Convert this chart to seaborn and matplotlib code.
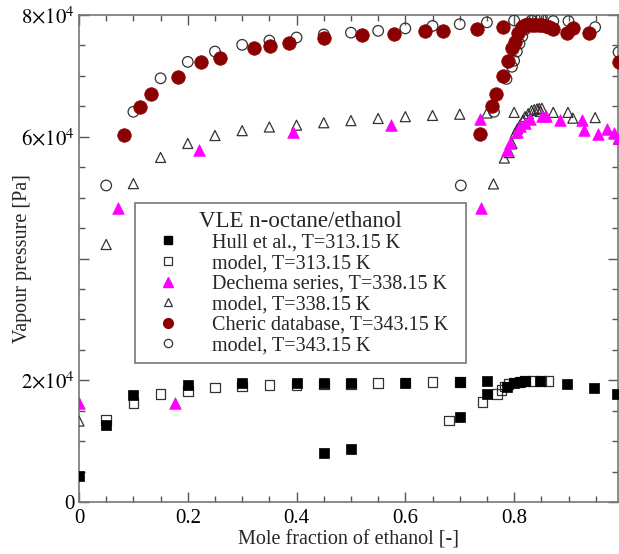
import matplotlib
matplotlib.use("Agg")
import matplotlib.pyplot as plt
import seaborn as sns
import numpy as np
from matplotlib.lines import Line2D
from matplotlib.ticker import MultipleLocator, FixedLocator, FixedFormatter

# ---------------- data ----------------
hull_x = [0.0, 0.05, 0.10, 0.20, 0.30, 0.40, 0.45, 0.50, 0.60, 0.70, 0.75,
          0.45, 0.50, 0.70, 0.75, 0.787, 0.80, 0.81, 0.82, 0.848, 0.897, 0.947, 0.99]
hull_y = [4300, 12600, 17600, 19200, 19600, 19600, 19600, 19600, 19600, 19700, 19800,
          8100, 8700, 14000, 17700, 18900, 19500, 19700, 19800, 19850, 19400, 18800, 17700]

m313_x = [0.05, 0.10, 0.15, 0.20, 0.25, 0.30, 0.35, 0.40, 0.45, 0.50, 0.55, 0.60, 0.65, 0.70,
          0.68, 0.742, 0.768, 0.777, 0.782, 0.79, 0.80, 0.81, 0.82, 0.835, 0.85, 0.863]
m313_y = [13500, 16300, 17700, 18200, 18800, 19000, 19200, 19200, 19300, 19400, 19500, 19600, 19700, 19750,
          13400, 16400, 17700, 18400, 19000, 19400, 19600, 19750, 19850, 19900, 19900, 19880]

dech_x = [0.0, 0.072, 0.177, 0.221, 0.393, 0.573, 0.737, 0.739, 0.786, 0.793, 0.805, 0.811,
          0.82, 0.829, 0.851, 0.859, 0.885, 0.924, 0.929, 0.955, 0.970, 0.983, 0.992]
dech_y = [16200, 48300, 16300, 57800, 60800, 61900, 62950, 48350, 57800, 58900, 60800, 61700,
          62200, 62950, 63400, 63400, 62750, 62750, 61100, 60400, 61200, 60550, 59800]

m338_x = [0.0, 0.05, 0.10, 0.15, 0.20, 0.25, 0.30, 0.35, 0.40, 0.45, 0.50, 0.55, 0.60, 0.65,
          0.70, 0.75, 0.80, 0.848, 0.872, 0.899, 0.908, 0.949, 0.992,
          0.762, 0.782, 0.791, 0.796, 0.802, 0.806, 0.811, 0.816, 0.82, 0.826, 0.832, 0.837,
          0.842, 0.846, 0.851]
m338_y = [13300, 42300, 52300, 56600, 58900, 60200, 61000, 61600, 61900, 62300, 62650, 63000, 63300, 63500,
          63700, 63900, 64000, 64150, 64000, 64000, 63050, 63150, 59600,
          52250, 56500, 57400, 58900, 60600, 61300, 61950, 62700, 63300, 63800, 64300, 64450,
          64570, 64640, 64680]

cher_x = [0.083, 0.112, 0.132, 0.182, 0.224, 0.259, 0.322, 0.351, 0.386, 0.45, 0.52, 0.579,
          0.636, 0.669, 0.731, 0.78, 0.897, 0.909, 0.937, 0.992,
          0.737, 0.759, 0.767, 0.78, 0.789, 0.796, 0.802, 0.808, 0.814, 0.82, 0.826, 0.832,
          0.838, 0.845, 0.852, 0.858, 0.865, 0.872]
cher_y = [60300, 64950, 67000, 69800, 72200, 73000, 74550, 74900, 75450, 76300, 76700, 76900,
          77300, 77400, 77650, 78100, 77100, 77800, 77000, 72350,
          60400, 65000, 67000, 69900, 72500, 74500, 75600, 77000, 78000, 78300, 78400, 78400,
          78400, 78350, 78300, 78200, 78100, 77700]

m343_x = [0.05, 0.10, 0.15, 0.20, 0.25, 0.30, 0.35, 0.40, 0.45, 0.50, 0.55, 0.60, 0.65, 0.70,
          0.75, 0.80, 0.849, 0.872, 0.90, 0.949, 0.992,
          0.702, 0.763, 0.786, 0.796, 0.80, 0.805, 0.81, 0.815, 0.82, 0.826, 0.832, 0.838,
          0.844, 0.851]
m343_y = [52000, 64100, 69600, 72300, 74000, 75100, 75800, 76300, 76800, 77100, 77400, 77800,
          78200, 78500, 78800, 79100, 79400, 79000, 79000, 78000, 73900,
          52000, 64100, 69500, 71500, 72500, 74000, 75300, 76500, 77600, 78600, 79100, 79400,
          79550, 79650]

legend_title = "VLE n-octane/ethanol"
labels = ["Hull et al., T=313.15 K", "model, T=313.15 K",
          "Dechema series, T=338.15 K", "model, T=338.15 K",
          "Cheric database, T=343.15 K", "model, T=343.15 K"]
ytick_vals = [0, 20000, 40000, 60000, 80000]
ytick_labels = ["0", r"$2{\times}10^{4}$", "", r"$6{\times}10^{4}$", r"$8{\times}10^{4}$"]

# ---------------- style ----------------
sns.set_style("ticks")
plt.rcParams["font.family"] = ["Liberation Serif", "DejaVu Serif"]
plt.rcParams["mathtext.fontset"] = "stix"

DARKRED = "#8b0000"
MAGENTA = "#ff00ff"
EDGE = "#333333"

fig = plt.figure(figsize=(6.19, 5.54), dpi=100)
ax = fig.add_axes([79 / 619, 52 / 554, 539 / 619, 487 / 554])

sns.scatterplot(x=m313_x, y=m313_y, ax=ax, marker="s", s=48, facecolor="none",
                edgecolor=EDGE, linewidth=0.9, zorder=3)
sns.scatterplot(x=hull_x, y=hull_y, ax=ax, marker="s", s=50, color="black",
                edgecolor="black", linewidth=0.5, zorder=4)
sns.scatterplot(x=m338_x, y=m338_y, ax=ax, marker="^", s=52, facecolor="none",
                edgecolor=EDGE, linewidth=0.9, zorder=3)
sns.scatterplot(x=dech_x, y=dech_y, ax=ax, marker="^", s=70, color=MAGENTA,
                edgecolor=MAGENTA, linewidth=0.5, zorder=4)
sns.scatterplot(x=m343_x, y=m343_y, ax=ax, marker="o", s=58, facecolor="none",
                edgecolor=EDGE, linewidth=0.9, zorder=3)
sns.scatterplot(x=cher_x, y=cher_y, ax=ax, marker="o", s=95, color=DARKRED,
                edgecolor=DARKRED, linewidth=0.5, zorder=4)

ax.set_xlim(0, 0.991)
ax.set_ylim(0, 80000)

ax.set_xticks([0, 0.2, 0.4, 0.6, 0.8])
ax.set_xticklabels(["0", "0.2", "0.4", "0.6", "0.8"])
ax.xaxis.set_minor_locator(MultipleLocator(0.05))
ax.yaxis.set_major_locator(FixedLocator(ytick_vals))
ax.yaxis.set_major_formatter(FixedFormatter(ytick_labels))
ax.yaxis.set_minor_locator(MultipleLocator(5000))

ax.tick_params(which="both", direction="in", top=True, right=True, colors="#555555",
               labelcolor="black", labelsize=15, width=1)
ax.tick_params(which="major", length=7)
ax.tick_params(axis="x", which="major", pad=5)
ax.tick_params(axis="y", which="major", pad=3)
ax.tick_params(which="minor", length=4)
for sp in ax.spines.values():
    sp.set_visible(True)
    sp.set_color("#777777")
    sp.set_linewidth(1.2)

ax.set_xlabel("Mole fraction of ethanol [-]", fontsize=14.5, labelpad=2)
ax.set_ylabel("Vapour pressure [Pa]", fontsize=14.5)
ax.yaxis.set_label_coords(-0.087, 0.5)

handles = [
    Line2D([], [], ls="none", marker="s", ms=6, mfc="black", mec="black"),
    Line2D([], [], ls="none", marker="s", ms=6, mfc="none", mec=EDGE, mew=0.9),
    Line2D([], [], ls="none", marker="^", ms=7, mfc=MAGENTA, mec=MAGENTA),
    Line2D([], [], ls="none", marker="^", ms=6, mfc="none", mec=EDGE, mew=0.9),
    Line2D([], [], ls="none", marker="o", ms=7, mfc=DARKRED, mec=DARKRED),
    Line2D([], [], ls="none", marker="o", ms=6, mfc="none", mec=EDGE, mew=0.9),
]
padded = [lab + "\u2002" for lab in labels]
leg = ax.legend(handles, padded, title=legend_title, loc="upper left",
                bbox_to_anchor=(0.104, 0.614), borderaxespad=0, fontsize=14.5,
                title_fontsize=16.5, frameon=True, fancybox=False, framealpha=1,
                edgecolor="#777777", labelspacing=0.07, handlelength=2.5,
                handletextpad=0.9, borderpad=0.4)
leg.get_frame().set_linewidth(1.2)
leg.set_zorder(10)

fig.savefig("out.png", dpi=100)
